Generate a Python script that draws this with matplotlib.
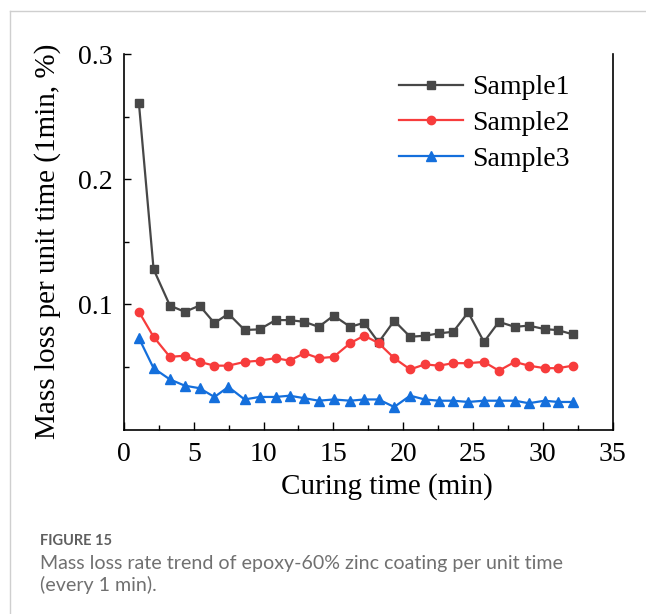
import matplotlib
matplotlib.use('Agg')
import matplotlib.pyplot as plt
from matplotlib.lines import Line2D
from matplotlib.ticker import MultipleLocator, FixedLocator

# ---------------------------------------------------------------------------
# data
# ---------------------------------------------------------------------------
time_min = [1.07, 2.12, 3.29, 4.36, 5.41, 6.48, 7.48, 8.64, 9.71, 10.86,
            11.86, 12.93, 13.95, 15.02, 16.21, 17.21, 18.24, 19.36, 20.50, 21.55,
            22.57, 23.59, 24.66, 25.79, 26.86, 28.00, 29.00, 30.14, 31.09, 32.16]

sample1 = [0.2605, 0.128, 0.099, 0.094, 0.099, 0.085, 0.0925, 0.0795, 0.080, 0.0874,
           0.0874, 0.086, 0.082, 0.091, 0.082, 0.0853, 0.0696, 0.0869, 0.0741, 0.0749,
           0.0768, 0.0781, 0.0936, 0.070, 0.086, 0.082, 0.083, 0.0802, 0.0794, 0.076]

sample2 = [0.094, 0.074, 0.058, 0.059, 0.054, 0.051, 0.051, 0.054, 0.055, 0.057,
           0.055, 0.061, 0.057, 0.058, 0.069, 0.075, 0.069, 0.057, 0.048, 0.052,
           0.051, 0.053, 0.053, 0.054, 0.047, 0.054, 0.051, 0.049, 0.049, 0.051]

sample3 = [0.073, 0.049, 0.040, 0.035, 0.033, 0.026, 0.034, 0.024, 0.026, 0.026,
           0.027, 0.025, 0.023, 0.024, 0.023, 0.024, 0.024, 0.018, 0.027, 0.024,
           0.023, 0.023, 0.022, 0.023, 0.023, 0.023, 0.021, 0.023, 0.022, 0.022]

labels = ['Sample1', 'Sample2', 'Sample3']

# ---------------------------------------------------------------------------
# figure
# ---------------------------------------------------------------------------
plt.rcParams['font.family'] = ['Liberation Serif', 'DejaVu Serif']

W, H = 646, 614
fig = plt.figure(figsize=(W / 100, H / 100), dpi=100)
fig.patch.set_facecolor('white')

# card border (left + top)
fig.add_artist(Line2D([10 / W, 10 / W], [0, 1 - 11 / H],
                      transform=fig.transFigure, color='#cfcfcf', lw=1.0))
fig.add_artist(Line2D([10 / W, 1], [1 - 11 / H, 1 - 11 / H],
                      transform=fig.transFigure, color='#cfcfcf', lw=1.0))

ax = fig.add_axes([124 / W, 1 - 429.5 / H, 488.5 / W, 375.5 / H])

ax.plot(time_min, sample1, color='#474747', lw=1.6, marker='s', ms=6, label=labels[0])
ax.plot(time_min, sample2, color='#f73c3c', lw=1.6, marker='o', ms=6, label=labels[1])
ax.plot(time_min, sample3, color='#146fdc', lw=1.6, marker='^', ms=7, label=labels[2])

ax.set_xlim(0, 35)
ax.set_ylim(0, 0.3)
ax.xaxis.set_major_locator(MultipleLocator(5))
ax.xaxis.set_minor_locator(MultipleLocator(2.5))
ax.yaxis.set_major_locator(FixedLocator([0.1, 0.2, 0.3]))
ax.yaxis.set_minor_locator(FixedLocator([0.05, 0.15, 0.25]))
ax.set_yticklabels(['0.1', '0.2', '0.3'])

ax.tick_params(which='both', direction='in', labelsize=20, width=1.0)
ax.tick_params(axis='x', which='both', pad=9)
ax.tick_params(axis='y', which='both', pad=8)
ax.tick_params(which='major', length=6)
ax.tick_params(which='minor', length=3.5)
ax.tick_params(axis='y', which='major', length=5)

ax.spines['top'].set_visible(False)
for side in ['left', 'bottom', 'right']:
    ax.spines[side].set_linewidth(1.2)

ax.set_xlabel('Curing time (min)', fontsize=21)
ax.set_ylabel('Mass loss per unit time (1min, %)', fontsize=21)
ax.xaxis.set_label_coords((387 - 124) / 488.5, (429.5 - 473) / 375.5)
ax.yaxis.set_label_coords((61 - 124) / 488.5, 0.5)

leg = ax.legend(loc='upper left', bbox_to_anchor=((399 - 124) / 488.5, (429.5 - 75) / 375.5),
                frameon=False, fontsize=20, handlelength=2.3, handletextpad=0.32,
                labelspacing=0.37, borderpad=0, borderaxespad=0)

# caption
cap_font = ['Lato', 'DejaVu Sans']
fig.text(40 / W, 1 - 541 / H, 'FIGURE 15', fontsize=10.5, fontweight='bold',
         color='#5f5f5f', family=cap_font, va='center')
fig.text(40 / W, 1 - 563 / H,
         'Mass loss rate trend of epoxy-60% zinc coating per unit time',
         fontsize=14.1, color='#707070', family=cap_font, va='center')
fig.text(40 / W, 1 - 585 / H, '(every 1 min).', fontsize=14.1, color='#707070',
         family=cap_font, va='center')

plt.savefig('out.png', dpi=100, facecolor='white')
